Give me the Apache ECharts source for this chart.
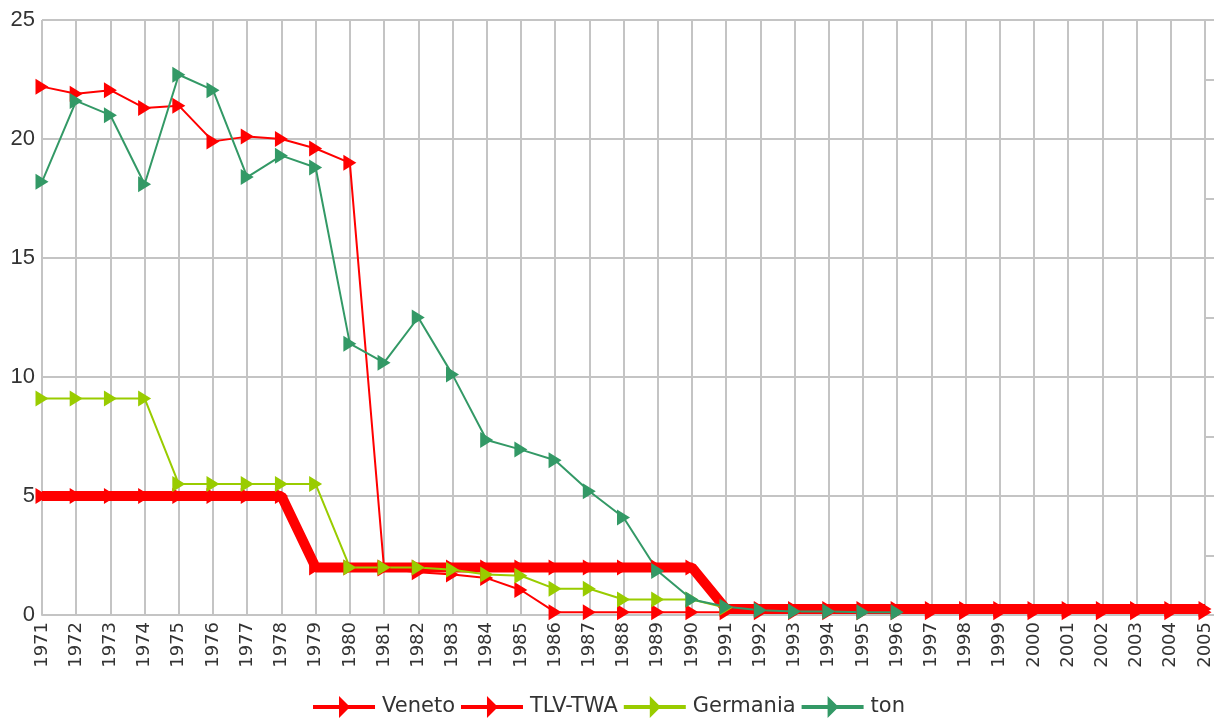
<!DOCTYPE html>
<html>
<head>
<meta charset="utf-8">
<script src="https://cdn.jsdelivr.net/npm/echarts@6/dist/echarts.min.js"></script>
<style>
  html, body { margin: 0; padding: 0; background: #fff; }
  #chart { width: 1218px; height: 724px; }
</style>
</head>
<body>
<div id="chart"></div>
<script>
// anni
const years = [];
for (let y = 1971; y <= 2005; y++) years.push(String(y));

const yTicks = [0, 5, 10, 15, 20, 25];

// valori
const veneto = [5, 5, 5, 5, 5, 5, 5, 5, 2, 2, 2, 2, 2, 2, 2, 2, 2, 2, 2, 2,
  0.25, 0.25, 0.25, 0.25, 0.25, 0.25, 0.25, 0.25, 0.25, 0.25, 0.25, 0.25, 0.25, 0.25, 0.25];
const tlvTwa = [22.2, 21.9, 22.05, 21.3, 21.4, 19.9, 20.1, 20.0, 19.6, 19.0,
  1.95, 1.8, 1.7, 1.55, 1.05, 0.12, 0.12, 0.12, 0.12, 0.12,
  0.12, 0.12, 0.12, 0.12, 0.12, 0.12, 0.12, 0.12, 0.12, 0.12, 0.12, 0.12, 0.12, 0.12, 0.12];
const germania = [9.1, 9.1, 9.1, 9.1, 5.5, 5.5, 5.5, 5.5, 5.5, 2.0,
  2.0, 2.0, 1.9, 1.7, 1.65, 1.1, 1.1, 0.65, 0.65, 0.65, 0.3];
const ton = [18.2, 21.6, 21.0, 18.1, 22.7, 22.05, 18.4, 19.3, 18.8, 11.4,
  10.6, 12.5, 10.1, 7.35, 6.95, 6.5, 5.2, 4.1, 1.85, 0.65,
  0.35, 0.2, 0.15, 0.15, 0.12, 0.12];

const arrow = 'path://M0,0 L10,5 L0,10 Z';
// linea + freccia per la legenda
const legendIcon = 'path://M0,9 L26,9 L26,0 L35,9 L62,9 L62,13 L35,13 L26,22 L26,13 L0,13 Z';
const grigio = '#c4c4c4';

let myChart = echarts.init(document.getElementById('chart'), null, { renderer: 'canvas' });

function serie(name, data, color, width) {
  return {
    name: name,
    type: 'line',
    data: data,
    symbol: arrow,
    symbolSize: [13, 16],
    showAllSymbol: true,
    lineStyle: { color: color, width: width },
    itemStyle: { color: color },
    emphasis: { disabled: true },
    animation: false
  };
}

myChart.setOption({
  backgroundColor: '#fff',
  grid: { left: 42, right: 13, top: 20, bottom: 109 },
  legend: {
    bottom: 1,
    left: 'center',
    itemWidth: 62,
    itemHeight: 22,
    itemGap: 6,
    textStyle: { fontSize: 21, color: '#333', fontFamily: 'DejaVu Sans', padding: [0, 0, 0, 2] },
    data: [
      { name: 'Veneto', icon: legendIcon },
      { name: 'TLV-TWA', icon: legendIcon },
      { name: 'Germania', icon: legendIcon },
      { name: 'ton', icon: legendIcon }
    ]
  },
  xAxis: {
    type: 'category',
    boundaryGap: false,
    data: years,
    axisLine: { show: true, lineStyle: { color: grigio, width: 2 } },
    axisTick: { show: false },
    axisLabel: {
      rotate: 90, interval: 0, fontSize: 18, color: '#333', margin: 7,
      fontFamily: 'DejaVu Sans'
    },
    splitLine: { show: true, lineStyle: { color: grigio, width: 2 } }
  },
  yAxis: [{
    type: 'value',
    min: yTicks[0],
    max: yTicks[yTicks.length - 1],
    interval: 5,
    axisLine: { show: false },
    axisTick: { show: false },
    axisLabel: { fontSize: 22, color: '#333', margin: 7, fontFamily: 'Liberation Sans' },
    splitLine: { show: true, lineStyle: { color: grigio, width: 2 } }
  }, {
    type: 'value',
    position: 'right',
    min: 0,
    max: 25,
    interval: 2.5,
    axisLine: { show: true, lineStyle: { color: grigio, width: 2 } },
    axisTick: { show: true, length: 9, lineStyle: { color: grigio, width: 2 } },
    axisLabel: { show: false },
    splitLine: { show: false }
  }],
  series: [
    serie('Veneto', veneto, '#ff0000', 10),
    serie('TLV-TWA', tlvTwa, '#ff0000', 2),
    serie('Germania', germania, '#99cc00', 2),
    serie('ton', ton, '#339966', 2)
  ]
});
</script>
</body>
</html>
